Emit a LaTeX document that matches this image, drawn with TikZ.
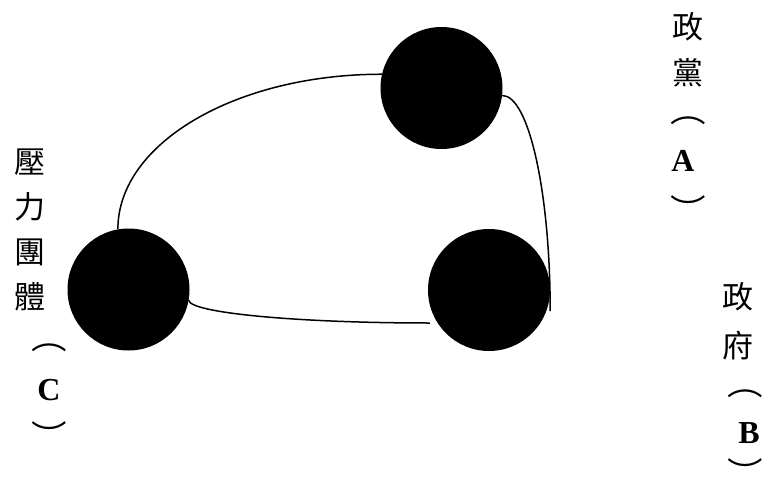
\documentclass[tikz,border=0pt]{standalone}
\usepackage{fontspec}
\setmainfont{Liberation Serif}
\newfontfamily\cjk{Noto Sans CJK TC}
\usetikzlibrary{calc}
\tikzset{
  party/.style={circle,fill=black,draw=none,minimum size=122pt,inner sep=0pt},
  link/.style={line width=1.5pt},
  cj/.style={inner sep=0pt,font=\cjk\fontsize{31}{31}\selectfont},
  par/.style={inner sep=0pt,font=\cjk\fontsize{31}{31}\selectfont},
  lat/.style={inner sep=0pt,font=\fontsize{32}{32}\selectfont\bfseries},
}
\newcommand{\wpar}[1]{\scalebox{1.15}[1]{#1}}
\newcommand{\lowpar}[1]{\raisebox{-21.8pt}[7pt][7pt]{\wpar{#1}}}
\begin{document}
\begin{tikzpicture}[x=1pt,y=-1pt]
\useasboundingbox (0,0) rectangle (764,479);
% circles
\node[party] (gA) at (441.5,88) {};
\node[party] (gB) at (489,290) {};
\node[party] (gC) at (128.5,289.5) {};
% connectors
\coordinate (eB1) at ($(gB.east)+(0,21)$);
\coordinate (eB2) at ($(gB.west)+(2,33)$);
\draw[link] (gC.100) .. controls +(0,-86) and +(-146,0) .. (gA.167);
\draw[link] (gA.-7) .. controls +(26.5,0) and +(0,-119) .. (eB1);
\draw[link] (gC.-10) .. controls +(0,12.7) and +(-132.5,0) .. (eB2);
% labels: pressure groups (C)
\node[cj] (c1) at (30,162) {壓};
\node[cj] (c2) at (30,207) {力};
\node[cj] (c3) at (30,252) {團};
\node[cj] (c4) at (30,297) {體};
\node[par] (c5) at (49,348) {\wpar{︵}};
\node[lat] (c6) at (49,390) {C};
\node[par] (c7) at (49,426) {\lowpar{︶}};
% labels: party (A)
\node[cj] (a1) at (688,27) {政};
\node[cj] (a2) at (688,73) {黨};
\node[par] (a3) at (688,121) {\wpar{︵}};
\node[lat] (a4) at (683,161) {A};
\node[par] (a5) at (688,200) {\lowpar{︶}};
% labels: government (B)
\node[cj] (b1) at (738,297) {政};
\node[cj] (b2) at (738,346) {府};
\node[par] (b3) at (745,394) {\wpar{︵}};
\node[lat] (b4) at (749,433) {B};
\node[par] (b5) at (745,463) {\lowpar{︶}};
\end{tikzpicture}
\end{document}
